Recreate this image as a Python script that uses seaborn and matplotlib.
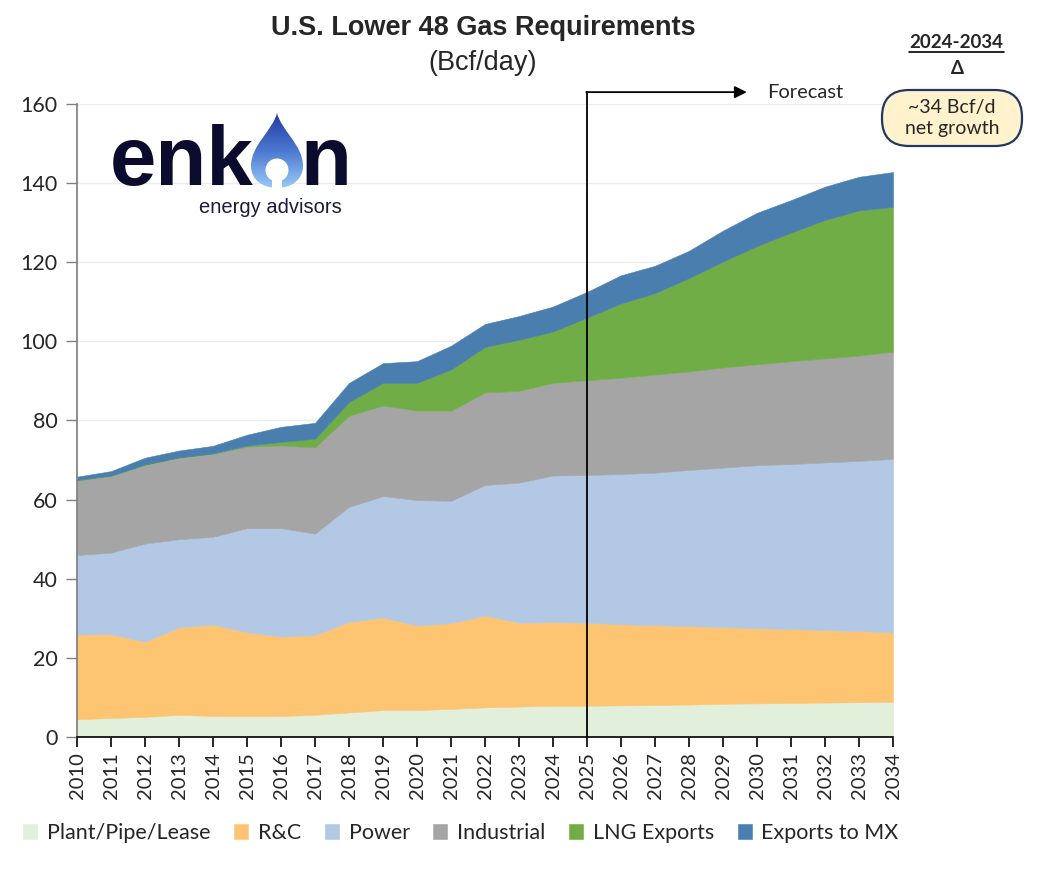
import matplotlib.pyplot as plt
import numpy as np
import pandas as pd
import seaborn as sns
from matplotlib.patches import Circle, FancyBboxPatch, PathPatch
from matplotlib.path import Path

years = list(range(2010, 2035))

plant_pipe_lease = [4.5, 4.8, 5.1, 5.6, 5.3, 5.3, 5.3, 5.6, 6.2, 6.8, 6.8, 7.1, 7.5,
                    7.7, 7.9, 7.9, 8.0, 8.1, 8.2, 8.4, 8.5, 8.6, 8.7, 8.8, 8.9]
res_comm = [21.4, 21.2, 19.0, 22.1, 23.1, 21.2, 20.1, 20.2, 22.9, 23.4, 21.4, 21.7, 23.2,
            21.2, 21.1, 21.0, 20.5, 20.2, 19.8, 19.4, 19.0, 18.7, 18.3, 18.0, 17.5]
power = [20.1, 20.6, 24.8, 22.3, 22.2, 26.3, 27.4, 25.6, 29.1, 30.7, 31.7, 30.9, 33.0,
         35.4, 37.1, 37.3, 38.0, 38.5, 39.5, 40.3, 41.2, 41.7, 42.4, 43.0, 43.9]
industrial = [18.8, 19.4, 19.9, 20.6, 21.0, 20.6, 20.9, 21.8, 23.0, 22.9, 22.6, 22.8, 23.4,
              23.2, 23.4, 24.0, 24.3, 24.8, 24.9, 25.3, 25.5, 26.0, 26.3, 26.6, 27.1]
lng_exports = [0.2, 0.1, 0.1, 0.1, 0.1, 0.3, 0.9, 2.2, 3.5, 5.7, 7.0, 10.4, 11.5,
               12.9, 13.0, 15.8, 18.8, 20.6, 23.6, 26.8, 29.9, 32.5, 35.0, 36.7, 36.6]
exports_mx = [0.8, 1.1, 1.7, 1.7, 1.9, 2.7, 3.8, 4.0, 4.8, 5.0, 5.5, 6.0, 5.8,
              6.0, 6.3, 6.5, 7.1, 6.9, 6.9, 7.8, 8.4, 8.2, 8.4, 8.5, 8.8]

series_names = ["Plant/Pipe/Lease", "R&C", "Power", "Industrial", "LNG Exports", "Exports to MX"]
series_colors = ["#E2EFDA", "#FDC572", "#B2C8E4", "#A5A5A5", "#70AD47", "#4A7EAF"]
forecast_start = 2025

df = pd.DataFrame({
    "Plant/Pipe/Lease": plant_pipe_lease,
    "R&C": res_comm,
    "Power": power,
    "Industrial": industrial,
    "LNG Exports": lng_exports,
    "Exports to MX": exports_mx,
}, index=years)

sns.set_theme(style="white")
plt.rcParams["font.family"] = ["Lato", "DejaVu Sans"]

fig = plt.figure(figsize=(10.42, 8.88), dpi=100)
ax = fig.add_axes([77 / 1042, 151 / 888, 816 / 1042, 633 / 888])

ax.stackplot(df.index, *[df[c] for c in series_names], colors=series_colors,
             labels=series_names, edgecolor="face", linewidth=0.4, zorder=2)

ax.set_xlim(2010, 2034)
ax.set_ylim(0, 160)
ax.set_xticks(years)
ax.set_xticklabels([str(y) for y in years], rotation=90, fontsize=14.5)
ax.set_yticks(range(0, 161, 20))
ax.tick_params(axis="y", labelsize=15.5, length=8, width=1, color="#808080",
               direction="out", left=True, pad=6)
ax.tick_params(axis="x", length=7, width=1.2, color="black", direction="out",
               bottom=True, pad=4)
ax.yaxis.grid(True, color="#ECECEC", linewidth=1, zorder=0)
ax.set_axisbelow(True)
sns.despine(ax=ax)
ax.spines["left"].set_color("#808080")
ax.spines["bottom"].set_color("black")
ax.spines["bottom"].set_linewidth(1.2)
ax.spines["bottom"].set_zorder(5)

# forecast marker
ax.plot([forecast_start, forecast_start], [0, 163], color="black", lw=1.3,
        clip_on=False, zorder=6)
ax.annotate("", xy=(forecast_start + 4.7, 163), xytext=(forecast_start - 0.02, 163),
            arrowprops=dict(arrowstyle="-|>", color="black", lw=1.3,
                            mutation_scale=18, shrinkA=0, shrinkB=0),
            annotation_clip=False)
ax.text(forecast_start + 5.3, 163, "Forecast", fontsize=14.5, va="center", ha="left")

# titles
fig.text(483 / 1042, 1 - 28 / 888, "U.S. Lower 48 Gas Requirements", fontsize=19.5,
         fontweight="bold", ha="center", va="center", family="Liberation Sans")
fig.text(483 / 1042, 1 - 63 / 888, "(Bcf/day)", fontsize=19.5, ha="center",
         va="center", family="Liberation Sans")

# overlay in pixel coordinates for logo and side note
ov = fig.add_axes([0, 0, 1, 1], zorder=10)
ov.set_xlim(0, 1042)
ov.set_ylim(888, 0)
ov.axis("off")
ov.patch.set_alpha(0)

navy = "#0B0B2E"
ov.text(110, 185, "enk", fontsize=60, fontweight="bold", color=navy,
        ha="left", va="baseline", family="Liberation Sans")
ov.text(300, 185, "n", fontsize=60, fontweight="bold", color=navy,
        ha="left", va="baseline", family="Liberation Sans")

verts = [(277, 113),
         (281, 130), (303, 145), (303, 166),
         (303, 179), (292, 188), (277, 188),
         (262, 188), (251, 179), (251, 166),
         (251, 145), (273, 130), (277, 113),
         (277, 113)]
codes = [Path.MOVETO] + [Path.CURVE4] * 12 + [Path.CLOSEPOLY]
drop = PathPatch(Path(verts, codes), facecolor="none", edgecolor="none")
ov.add_patch(drop)
grad = np.linspace(0, 1, 100).reshape(-1, 1)
cmap = sns.blend_palette(["#2538A0", "#4A78D0", "#9CCBF7"], as_cmap=True)
img = ov.imshow(grad, cmap=cmap, extent=[250, 304, 189, 112], aspect="auto",
                origin="upper", zorder=3)
img.set_clip_path(drop)
ov.add_patch(Circle((277, 170), 11.5, facecolor="white", edgecolor="none", zorder=4))
ov.add_patch(plt.Rectangle((272, 174), 10, 16, facecolor="white", edgecolor="none", zorder=4))
ov.text(270, 207, "energy advisors", fontsize=14.5, color="#1A1A3A", ha="center",
        va="center", family="Liberation Sans")

ov.text(956, 43, "2024-2034", fontsize=13.5, fontweight="bold", ha="center", va="center")
ov.plot([909, 1004], [52.5, 52.5], color="black", lw=1.2)
ov.text(957, 68, "Δ", fontsize=13.5, fontweight="bold", ha="center", va="center")
box = FancyBboxPatch((882, 90), 140, 56, boxstyle="round,pad=0,rounding_size=27",
                     facecolor="#FFF2CC", edgecolor="#1F3864", lw=1.6)
ov.add_patch(box)
ov.text(952, 118, "~34 Bcf/d\nnet growth", fontsize=14, ha="center", va="center",
        linespacing=1.25)

handles, labels = ax.get_legend_handles_labels()
fig.legend(handles, labels, loc="center", bbox_to_anchor=(461 / 1042, 1 - 833 / 888),
           ncol=6, frameon=False, fontsize=15.5, handlelength=0.65, handleheight=0.65,
           handletextpad=0.45, columnspacing=1.1)

fig.savefig("out.png", dpi=100)
